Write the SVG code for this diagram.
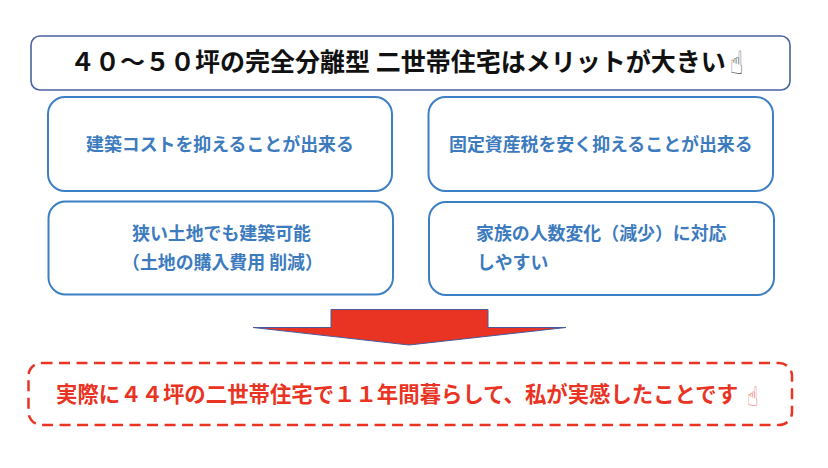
<svg xmlns="http://www.w3.org/2000/svg" width="828" height="468" viewBox="0 0 828 468">
<style>
text{font-family:"Noto Sans CJK JP","Liberation Sans",sans-serif;white-space:pre}
.b{fill:#fff;stroke:#3d7fc4;stroke-width:2}
.t{fill:#3d7bbf;font-size:17.9px;font-weight:700}
.h{font-family:"DejaVu Sans",sans-serif}
</style>
<rect width="828" height="468" fill="#fff"/>
<g id="title"><rect x="31" y="36" width="759" height="54" rx="9" fill="#fff" stroke="#4a639f" stroke-width="1.6"/>
<text x="70" y="71" font-size="25" font-weight="700" fill="#111">４０～５０坪の完全分離型 二世帯住宅はメリットが大きい</text>
<text class="h" transform="translate(730 74) scale(.72 1.08)" font-size="30" fill="#444">☝</text></g>
<g id="box1"><rect class="b" x="48" y="97" width="344" height="94" rx="17"/><text class="t" x="86" y="151">建築コストを抑えることが出来る</text></g>
<g id="box2"><rect class="b" x="428.500" y="97" width="344.500" height="94" rx="17"/><text class="t" x="449" y="151">固定資産税を安く抑えることが出来る</text></g>
<g id="box3"><rect class="b" x="48.500" y="201.500" width="344.500" height="93" rx="17"/><text class="t" x="132" y="240">狭い土地でも建築可能</text><text class="t" x="122" y="269">（土地の購入費用 削減）</text></g>
<g id="box4"><rect class="b" x="429" y="202" width="345" height="93" rx="17"/><text class="t" x="476" y="240">家族の人数変化（減少）に対応</text><text class="t" x="477" y="269">しやすい</text></g>
<g id="connectors"><polygon points="331,309.500 488,309.500 488,327.500 566,327.500 409,345 253,327.500 331,327.500" fill="#e93323" stroke="#4a5a9a" stroke-width="1"/></g>
<g id="note"><rect x="28.500" y="363" width="763.500" height="62" rx="13" fill="#fff" stroke="#e93323" stroke-width="2.500" stroke-dasharray="11 6.500"/>
<text x="56" y="402" font-size="21.400" font-weight="700" fill="#e93323">実際に４４坪の二世帯住宅で１１年間暮らして、私が実感したことです</text>
<text class="h" transform="translate(747 406) scale(.72 1.05)" font-size="26" fill="#ea5a4d">☝</text></g>
</svg>
